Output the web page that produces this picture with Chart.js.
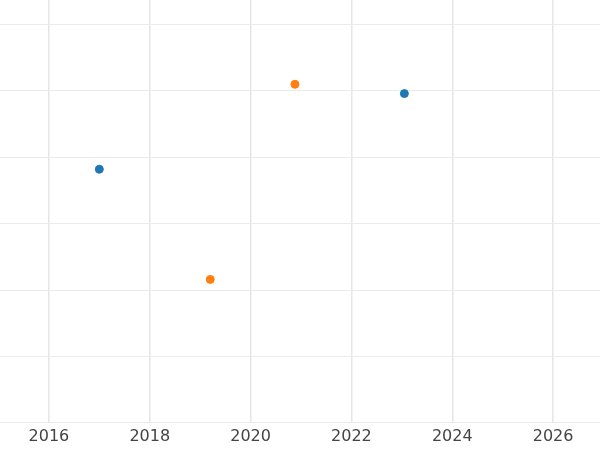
<!DOCTYPE html>
<html>
<head>
<meta charset="utf-8">
<script src="https://cdn.jsdelivr.net/npm/chart.js@4/dist/chart.umd.min.js"></script>
<style>
  html, body { margin: 0; padding: 0; background: #fff; }
  #wrap { width: 600px; height: 450px; }
</style>
</head>
<body>
<div id="wrap"><canvas id="chart"></canvas></div>
<script>
// series values (x = year, y = unlabelled value)
const blueX = [2017.0, 2023.05];
const blueY = [3.82, 4.96];
const orangeX = [2019.2, 2020.88];
const orangeY = [2.16, 5.10];
const xTicks = [2016, 2018, 2020, 2022, 2024, 2026];
const yTicks = [0, 1, 2, 3, 4, 5, 6];

function toPoints(xs, ys) {
    return xs.map((x, i) => ({ x: x, y: ys[i] }));
}

new Chart(document.getElementById('chart'), {
    type: 'scatter',
    data: {
        datasets: [
            { data: toPoints(blueX, blueY), backgroundColor: '#1f77b4', borderColor: '#1f77b4', pointRadius: 4 },
            { data: toPoints(orangeX, orangeY), backgroundColor: '#ff7f0e', borderColor: '#ff7f0e', pointRadius: 4 }
        ]
    },
    options: {
        responsive: true,
        maintainAspectRatio: false,
        animation: false,
        layout: { padding: 0, autoPadding: false },
        plugins: { legend: { display: false }, tooltip: { enabled: false } },
        scales: {
            x: {
                type: 'linear',
                min: 2015.03,
                max: 2026.93,
                afterBuildTicks: axis => { axis.ticks = xTicks.map(v => ({ value: v })); },
                border: { display: false },
                grid: { color: '#e6e6e6', lineWidth: 1.5, drawTicks: false },
                ticks: {
                    color: '#444',
                    font: { family: 'DejaVu Sans', size: 16 },
                    padding: 4,
                    callback: v => String(v)
                }
            },
            y: {
                min: 0,
                max: 6.37,
                afterBuildTicks: axis => { axis.ticks = yTicks.map(v => ({ value: v })); },
                border: { display: false },
                grid: { color: '#ebebeb', lineWidth: 1, drawTicks: false },
                ticks: { display: false }
            }
        }
    }
});
</script>
</body>
</html>
